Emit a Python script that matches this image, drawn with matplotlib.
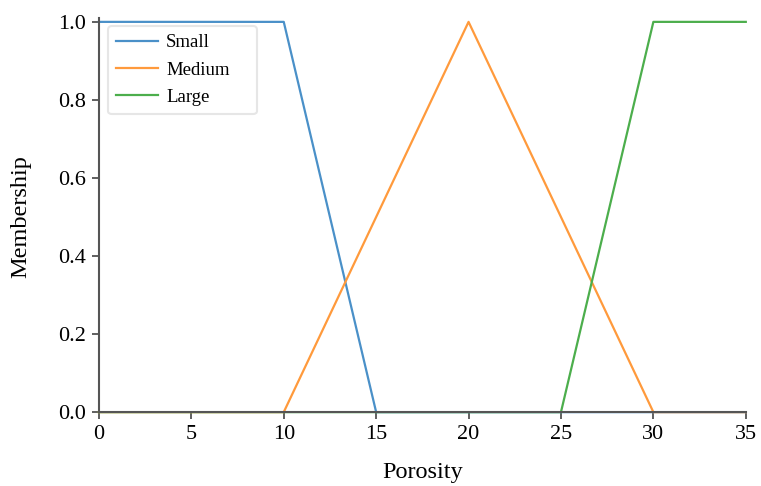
import matplotlib.pyplot as plt

plt.rcParams['font.family'] = ['Liberation Serif', 'DejaVu Serif']

# Fuzzy membership functions for porosity
x_small = [0, 10, 15, 35]
y_small = [1, 1, 0, 0]
x_medium = [0, 10, 20, 30, 35]
y_medium = [0, 0, 1, 0, 0]
x_large = [0, 25, 30, 35]
y_large = [0, 0, 1, 1]
xticks = [0, 5, 10, 15, 20, 25, 30, 35]
yticks = [0.0, 0.2, 0.4, 0.6, 0.8, 1.0]

fig = plt.figure(figsize=(7.61, 4.86), dpi=100)
ax = fig.add_axes([0.130, 0.152, 0.850, 0.803])

ax.plot(x_small, y_small, color='#4a90c8', lw=1.6, label='Small', clip_on=False)
ax.plot(x_medium, y_medium, color='#ff9a3c', lw=1.6, label='Medium', clip_on=False)
ax.plot(x_large, y_large, color='#4cae4c', lw=1.6, label='Large', clip_on=False)

ax.set_xlim(0, 35)
ax.set_ylim(0, 1)
ax.set_xticks(xticks)
ax.set_yticks(yticks)
ax.set_yticklabels([f'{v:.1f}' for v in yticks])
ax.tick_params(labelsize=16, length=5, width=1.2, color='#444444', pad=4.5)

for s in ['top', 'right']:
    ax.spines[s].set_visible(False)
for s in ['left', 'bottom']:
    ax.spines[s].set_color('#555555')
    ax.spines[s].set_linewidth(1.5)
ax.spines['left'].set_bounds(0, 1.01)

ax.set_xlabel('Porosity', fontsize=17.5, labelpad=13)
ax.set_ylabel('Membership', fontsize=17.5, labelpad=19)

leg = ax.legend(loc='upper left', fontsize=13.5, frameon=True, fancybox=True,
                bbox_to_anchor=(0.014, 0.99, 0.230, 0.0), mode='expand',
                handlelength=2.2, borderpad=0.45, labelspacing=0.54,
                handletextpad=0.45, borderaxespad=0)
leg.get_frame().set_edgecolor('#e0e0e0')
leg.get_frame().set_linewidth(1.5)

fig.savefig('out.png', dpi=100)
